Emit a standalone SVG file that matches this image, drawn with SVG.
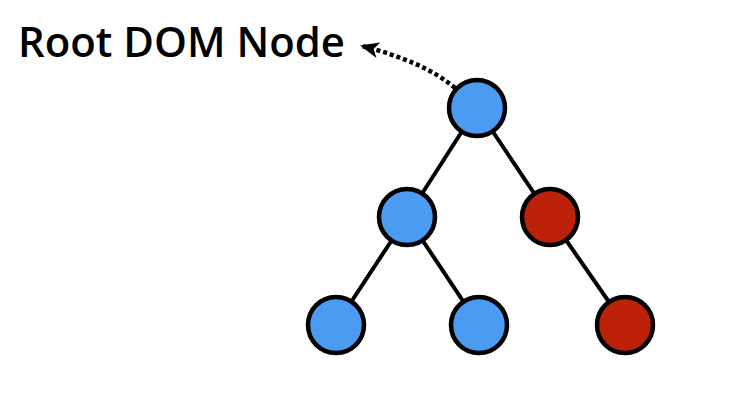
<svg xmlns="http://www.w3.org/2000/svg" width="750" height="394" viewBox="0 0 750 394">
<style>
.edge{stroke:#000;stroke-width:4;fill:none}
.n{stroke:#000;stroke-width:4.5}
.blue{fill:#4A9BF1}
.red{fill:#BE2109}
.lbl{font-family:"Open Sans","Noto Sans",sans-serif;font-size:41px;font-weight:600;fill:#000}
</style>
<defs>
<marker id="ah" markerWidth="19" markerHeight="16" refX="17" refY="8" orient="auto" markerUnits="userSpaceOnUse">
<path d="M0,0 L19,8 L0,16 L5,8 z" fill="#000"/>
</marker>
</defs>
<rect width="750" height="394" fill="#fff"/>
<g id="connectors">
<line class="edge" x1="477" y1="108" x2="407" y2="217"/>
<line class="edge" x1="477" y1="108" x2="550" y2="217"/>
<line class="edge" x1="407" y1="217" x2="336" y2="325"/>
<line class="edge" x1="407" y1="217" x2="479" y2="325"/>
<line class="edge" x1="550" y1="217" x2="625" y2="325"/>
<path d="M455,88 Q425,62 362,46" fill="none" stroke="#000" stroke-width="4.5" stroke-dasharray="4,3" marker-end="url(#ah)"/>
</g>
<g id="label"><text class="lbl" x="18" y="57" textLength="327" lengthAdjust="spacingAndGlyphs">Root DOM Node</text></g>
<g id="root"><circle class="n blue" cx="477" cy="108" r="28"/></g>
<g id="mid-left"><circle class="n blue" cx="407" cy="217" r="28"/></g>
<g id="mid-right"><circle class="n red" cx="550" cy="217" r="28"/></g>
<g id="leaf-1"><circle class="n blue" cx="336" cy="325" r="28"/></g>
<g id="leaf-2"><circle class="n blue" cx="479" cy="325" r="28"/></g>
<g id="leaf-3"><circle class="n red" cx="625" cy="325" r="28"/></g>
</svg>
